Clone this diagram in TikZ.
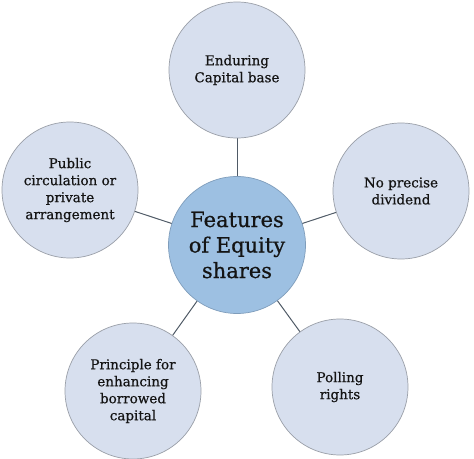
\documentclass[tikz,border=0pt]{standalone}
\usepackage{fontspec}
\setmainfont{DejaVu Serif}[BoldFont={DejaVu Serif}, BoldFeatures={FakeBold=0.6}]
\definecolor{outerfill}{HTML}{D7DFEE}
\definecolor{outerline}{HTML}{9A9FA8}
\definecolor{centerfill}{HTML}{9DC0E2}
\definecolor{centerline}{HTML}{7F9DBB}
\definecolor{linkcol}{HTML}{4F5A66}
\definecolor{txt}{HTML}{141414}
\tikzset{
  outer/.style={circle, draw=outerline, fill=outerfill, line width=0.7pt, minimum size=136pt, inner sep=0pt, align=center, font=\fontsize{13.5}{17}\selectfont\bfseries, text=txt},
  hub/.style={circle, draw=centerline, fill=centerfill, line width=0.7pt, minimum size=137pt, inner sep=0pt, align=center, font=\fontsize{21}{25.5}\selectfont\bfseries, text=txt},
  link/.style={draw=linkcol, line width=1pt}
}
\begin{document}
\begin{tikzpicture}[x=1pt,y=1pt]
\useasboundingbox (0,0) rectangle (474,458);
\coordinate (cC) at (237,213);
\coordinate (cT) at (237,388);
\coordinate (cUL) at (70,268);
\coordinate (cUR) at (401,267);
\coordinate (cLL) at (133,67);
\coordinate (cLR) at (340,71);
\draw[link] (cC) -- (cT);
\draw[link] (cC) -- (cUL);
\draw[link] (cC) -- (cUR);
\draw[link] (cC) -- (cLL);
\draw[link] (cC) -- (cLR);
\node[hub] (hub) at (cC) {Features\\of Equity\\shares};
\node[outer] (top) at (cT) {Enduring\\Capital base};
\node[outer] (ul) at (cUL) {Public\\circulation or\\private\\arrangement};
\node[outer] (ur) at (cUR) {No precise\\dividend};
\node[outer] (ll) at (cLL) {Principle for\\enhancing\\borrowed\\capital};
\node[outer] (lr) at (cLR) {Polling\\rights};
\end{tikzpicture}
\end{document}
